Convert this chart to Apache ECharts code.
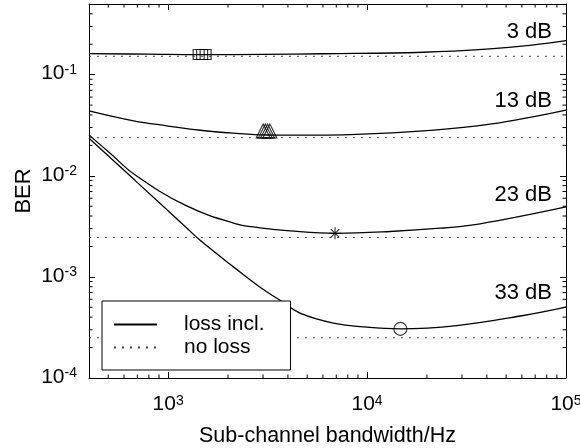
<!DOCTYPE html>
<html><head><meta charset="utf-8">
<script src="https://cdn.jsdelivr.net/npm/echarts@6/dist/echarts.min.js"></script>
<style>html,body{margin:0;padding:0;background:#fff}#c{width:580px;height:448px}</style>
</head><body><div id="c"></div>
<script>
// ---- axis ranges ----
const X_MIN = 400, X_MAX = 100000, Y_MIN = 1e-4, Y_MAX = 0.5;

// ---- curve labels ----
const snrLabels = ['3 dB', '13 dB', '23 dB', '33 dB'];

// ---- "loss incl." curves (bandwidth Hz, BER) ----
const bw3dB  = [400, 800, 1450, 3000, 6000, 19200, 41500, 65700, 100000];
const ber3dB = [0.1614, 0.1595, 0.158, 0.1588, 0.161, 0.1667, 0.180, 0.195, 0.217];

const bw13dB  = [400, 670, 985, 1448, 2122, 3133, 4100, 8870, 19190, 41500, 100000];
const ber13dB = [0.0439, 0.0350, 0.0312, 0.0282, 0.0264, 0.0253, 0.0252, 0.0257, 0.0278, 0.0324, 0.0447];

const bw23dB  = [400, 511, 683, 1217, 2173, 2897, 4100, 6966, 13050, 23280, 36980, 100000];
const ber23dB = [0.0253, 0.01668, 0.01017, 0.00512, 0.00337, 0.00306, 0.00285, 0.00270, 0.00281, 0.00303, 0.00335, 0.00492];

const bw33dB  = [400, 683, 1217, 1448, 2129, 2897, 3655, 4603, 6776, 9966, 14660, 28250, 60950, 100000];
const ber33dB = [0.0235, 0.00896, 0.00315, 0.00230, 0.001256, 0.00079, 0.000587, 0.000438, 0.000349, 0.000318, 0.000306, 0.000330, 0.000415, 0.000502];

// ---- "no loss" levels ----
const noLossBER = [0.152, 0.0238, 0.00245, 0.00025];

// ---- optimum markers ----
const squareX = [1423, 1482, 1543];       const squareY = [0.158, 0.158, 0.158];
const triX = [3002, 3079, 3162, 3245];    const triY = [0.0253, 0.0253, 0.0253, 0.0253];
const starX = [6900];                     const starY = [0.0027];
const circX = [14700];                    const circY = [0.000306];

// ---- tick values ----
const xMinorTicks = [500,600,700,800,900,2000,3000,4000,5000,6000,7000,8000,9000,20000,30000,40000,50000,60000,70000,80000,90000];
const yMinorTicks = [2e-4,3e-4,4e-4,5e-4,6e-4,7e-4,8e-4,9e-4,2e-3,3e-3,4e-3,5e-3,6e-3,7e-3,8e-3,9e-3,0.02,0.03,0.04,0.05,0.06,0.07,0.08,0.09,0.2,0.3,0.4];

const FONT = 'Liberation Sans, Arial, Helvetica, sans-serif';
const zip = (a, b) => a.map((v, i) => [v, b[i]]);

function powLabel(v) {
  const e = Math.log10(v);
  if (Math.abs(e - Math.round(e)) > 1e-6) return '';
  return '{b|10}{s|' + Math.round(e) + '}';
}
const richLbl = {
  b: { fontSize: 21, fontFamily: FONT, color: '#000', lineHeight: 34, verticalAlign: 'top' },
  s: { fontSize: 14, fontFamily: FONT, color: '#000', lineHeight: 14, verticalAlign: 'top' }
};

const solidSets = [[bw3dB, ber3dB], [bw13dB, ber13dB], [bw23dB, ber23dB], [bw33dB, ber33dB]];

const series = [];
solidSets.forEach(([x, y]) => {
  series.push({
    name: 'loss incl.', type: 'line', data: zip(x, y), smooth: 0.4,
    symbol: 'none', lineStyle: { color: '#000', width: 1.3 }, itemStyle: { color: '#000' }, z: 3
  });
});
noLossBER.forEach(v => {
  series.push({
    name: 'no loss', type: 'line', data: [[X_MIN, v], [X_MAX, v]],
    symbol: 'none', lineStyle: { color: '#444', width: 1, type: [2, 6] }, itemStyle: { color: '#444' }, z: 2
  });
});
const hollow = { color: 'transparent', borderColor: '#000', borderWidth: 1.1 };
series.push({ name: 'sq', type: 'scatter', data: zip(squareX, squareY), symbol: 'rect', symbolSize: [11, 10], itemStyle: hollow, z: 5 });
series.push({ name: 'tri', type: 'scatter', data: zip(triX, triY), symbol: 'triangle', symbolSize: [14, 14], symbolOffset: [0, -4], itemStyle: hollow, z: 5 });
series.push({ name: 'star', type: 'scatter', data: zip(starX, starY),
  symbol: 'path://M5,0L5,10M0,5L10,5M1.5,1.5L8.5,8.5M1.5,8.5L8.5,1.5', symbolSize: 12, itemStyle: hollow, z: 5 });
series.push({ name: 'circ', type: 'scatter', data: zip(circX, circY), symbol: 'circle', symbolSize: 13, itemStyle: hollow, z: 5 });

// minor ticks (log-distributed) drawn through the axis scales
series.push({
  name: 'xminor', type: 'custom', clip: false, silent: true, z: 6,
  data: xMinorTicks.map(v => [v, Y_MIN]),
  renderItem: (p, api) => {
    const v = api.value(0);
    const a = api.coord([v, Y_MIN]), b = api.coord([v, Y_MAX]);
    const st = { stroke: '#000', lineWidth: 1 };
    return { type: 'group', children: [
      { type: 'line', shape: { x1: a[0], y1: a[1], x2: a[0], y2: a[1] - 3.5 }, style: st },
      { type: 'line', shape: { x1: b[0], y1: b[1], x2: b[0], y2: b[1] + 3.5 }, style: st }
    ]};
  }
});
series.push({
  name: 'yminor', type: 'custom', clip: false, silent: true, z: 6,
  data: yMinorTicks.map(v => [X_MIN, v]),
  renderItem: (p, api) => {
    const v = api.value(1);
    const a = api.coord([X_MIN, v]), b = api.coord([X_MAX, v]);
    const st = { stroke: '#000', lineWidth: 1 };
    return { type: 'group', children: [
      { type: 'line', shape: { x1: a[0], y1: a[1], x2: a[0] + 3.5, y2: a[1] }, style: st },
      { type: 'line', shape: { x1: b[0], y1: b[1], x2: b[0] - 3.5, y2: b[1] }, style: st }
    ]};
  }
});

const axisLine = { show: true, lineStyle: { color: '#000', width: 1 } };
const tick = { show: true, inside: true, length: 6, lineStyle: { color: '#000', width: 1 } };

const chart = echarts.init(document.getElementById('c'), null, { renderer: 'canvas' });
chart.setOption({
  animation: false,
  backgroundColor: '#fff',
  grid: { left: 89, right: 14, top: 4, bottom: 70, containLabel: false, outerBoundsMode: 'none' },
  xAxis: [{
    type: 'log', logBase: 10, min: X_MIN, max: X_MAX, position: 'bottom',
    axisLine, axisTick: tick, splitLine: { show: false }, minorTick: { show: false },
    axisLabel: { margin: 16, formatter: powLabel, rich: richLbl, showMinLabel: true, showMaxLabel: true },
    name: 'Sub-channel bandwidth/Hz', nameLocation: 'middle', nameGap: 47, nameMoveOverlap: false,
    nameTextStyle: { fontSize: 21.5, fontFamily: FONT, color: '#000' }
  }, {
    type: 'log', logBase: 10, min: X_MIN, max: X_MAX, position: 'top',
    axisLine, axisTick: tick, axisLabel: { show: false }, splitLine: { show: false }
  }],
  yAxis: [{
    type: 'log', logBase: 10, min: Y_MIN, max: Y_MAX, position: 'left',
    axisLine, axisTick: tick, splitLine: { show: false }, minorTick: { show: false },
    axisLabel: { margin: 12, formatter: powLabel, rich: richLbl, padding: [11, 0, 0, 0] },
    name: 'BER', nameLocation: 'middle', nameGap: 54, nameMoveOverlap: false,
    nameTextStyle: { fontSize: 22, fontFamily: FONT, color: '#000' }
  }, {
    type: 'log', logBase: 10, min: Y_MIN, max: Y_MAX, position: 'right',
    axisLine, axisTick: tick, axisLabel: { show: false }, splitLine: { show: false }
  }],
  legend: {
    data: ['loss incl.', 'no loss'], orient: 'vertical', left: 102, top: 301,
    padding: [13, 26, 12, 11], itemWidth: 43, itemHeight: 14, itemGap: 2,
    itemStyle: { opacity: 0 },
    borderColor: '#000', borderWidth: 1, backgroundColor: '#fff', selectedMode: false,
    textStyle: { fontSize: 21, fontFamily: FONT, color: '#000', lineHeight: 20, padding: [0, 0, 0, 22] }
  },
  graphic: snrLabels.map((t, i) => ({
    type: 'text', x: 552, y: [31.7, 101.3, 195.2, 293.2][i], z: 10,
    style: { text: t, font: '22px ' + FONT, fill: '#000', align: 'right', verticalAlign: 'middle' }
  })),
  series
});
</script></body></html>
